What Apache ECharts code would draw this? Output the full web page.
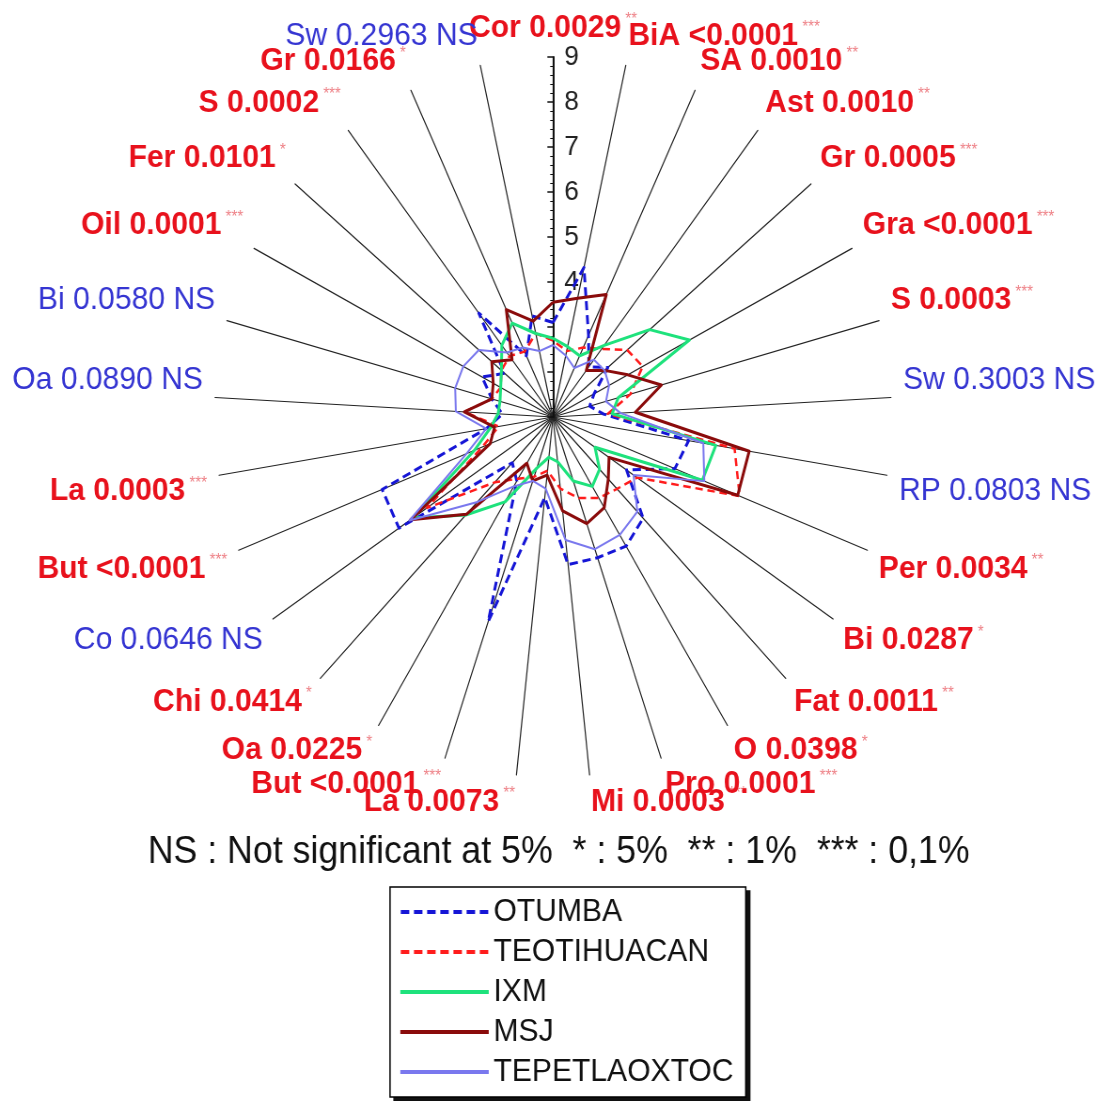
<!DOCTYPE html>
<html>
<head>
<meta charset="utf-8">
<script src="https://cdn.jsdelivr.net/npm/echarts@6/dist/echarts.min.js"></script>
<style>
html,body{margin:0;padding:0;background:#fff;overflow:hidden;width:1097px;height:1101px;}
#wrap{width:1097px;height:1101px;overflow:hidden;position:relative;}
#chart{width:1167px;height:1101px;transform:scaleX(0.94);transform-origin:0 0;position:absolute;left:0;top:0;}
</style>
</head>
<body>
<div id="wrap"><div id="chart"></div></div>
<script>
// ---- data (clockwise from the top) ----
const axisNames = ["Cor 0.0029","BiA <0.0001","SA 0.0010","Ast 0.0010","Gr 0.0005","Gra <0.0001","S 0.0003","Sw 0.3003","RP 0.0803","Per 0.0034","Bi 0.0287","Fat 0.0011","O 0.0398","Pro 0.0001","Mi 0.0003","La 0.0073","But <0.0001","Oa 0.0225","Chi 0.0414","Co 0.0646","But <0.0001","La 0.0003","Oa 0.0890","Bi 0.0580","Oil 0.0001","Fer 0.0101","S 0.0002","Gr 0.0166","Sw 0.2963"];
const significance = ["**","***","**","**","***","***","***","NS","NS","**","*","**","*","***","***","**","***","*","*","NS","***","***","NS","NS","***","*","***","*","NS"];
const siteNames = ["OTUMBA","TEOTIHUACAN","IXM","MSJ","TEPETLAOXTOC"];
const otumba       = [3.1,4.4,3.0,2.4,2.7,2.1,1.9,2.2,4.25,4.1,3.1,4.1,4.35,4.3,4.3,2.8,5.8,2.66,2.4,5.4,5.35,2.6,2.2,2.5,2.9,2.5,3.9,2.5,3.3];
const teotihuacan  = [2.7,2.5,2.7,2.9,3.3,3.4,2.9,2.3,5.35,5.75,3.4,3.2,3.1,2.9,2.6,2.2,2.4,2.6,3.0,4.6,2.8,2.3,3.1,2.5,2.4,2.6,2.7,2.6,2.9];
const ixm          = [2.75,2.6,2.5,3.0,4.0,4.65,2.6,2.4,4.9,4.8,2.2,2.6,2.8,2.5,2.0,1.9,2.2,3.2,4.0,5.0,3.0,2.5,2.3,2.3,2.4,2.6,3.0,3.3,2.9];
const msj          = [3.55,3.7,4.0,2.3,2.6,3.0,3.66,2.95,5.7,5.7,2.6,2.9,3.35,3.5,3.1,2.3,2.5,2.2,3.98,5.07,2.6,2.4,3.1,2.5,2.6,2.9,2.6,3.63,3.18];
const tepetlaoxtoc = [2.6,2.4,2.2,2.6,2.6,2.5,2.3,2.6,4.6,4.85,3.3,3.9,4.06,4.1,3.75,2.6,2.5,2.8,3.6,5.1,3.2,2.6,3.3,3.4,3.4,3.3,2.8,2.7,2.5];
const radialMin = 1, radialMax = 9;
const footnote = "NS : Not significant at 5%  * : 5%  ** : 1%  *** : 0,1%";

// ---- build ----
const FONT = "'Liberation Sans', Arial, sans-serif";
const SX = 0.94;               // horizontal squeeze of the whole figure (matches the reference's aspect)
const CX = 553 / SX, CY = 417, R = 360;
const n = axisNames.length;
// ECharts lays radar indicators counter-clockwise; reverse (keeping the first) to get clockwise order
const order = [0]; for (let i = n - 1; i >= 1; i--) order.push(i);
const indicator = order.map(i => ({ name: axisNames[i], min: radialMin, max: radialMax }));
const reorder = arr => order.map(i => arr[i]);

const styles = [
  { color: '#1515d6', width: 3, type: [9, 5] },
  { color: '#ff1c1c', width: 2.5, type: [8, 5] },
  { color: '#1ee27c', width: 3, type: 'solid' },
  { color: '#8a0b0b', width: 3, type: 'solid' },
  { color: '#7a78ee', width: 2, type: 'solid' }
];
const values = [otumba, teotihuacan, ixm, msj, tepetlaoxtoc];

function dashPath(w, h, dash, gap) {
  let p = '';
  for (let x = 0; x < w; x += dash + gap) {
    const d = Math.min(dash, w - x);
    p += 'M' + x + ',0h' + d + 'v' + h + 'h' + (-d) + 'z';
  }
  return 'path://' + p;
}

const UP = 34, DN = 28;
function axisLabelFormatter(name) {
  const i = axisNames.indexOf(name);
  const s = significance[i];
  const cosv = Math.cos(i * 2 * Math.PI / n);
  const pos = i === 0 ? 'C' : (cosv > 0 ? 'U' : 'D');
  if (s === 'NS') return '{ns' + pos + '|' + name + ' NS}';
  return '{sg' + pos + '|' + name + '}{st' + pos + '| ' + s + '}';
}
const nsBase = { fontSize: 32, color: '#3535d2', fontFamily: FONT };
const sgBase = { fontSize: 32, color: '#e8111c', fontWeight: 'bold', fontFamily: FONT };
const stBase = { fontSize: 16, color: '#ee7f85', fontFamily: FONT, verticalAlign: 'top' };
const rich = {
  nsC: Object.assign({}, nsBase), sgC: Object.assign({}, sgBase), stC: Object.assign({}, stBase),
  nsU: Object.assign({ padding: [0, 0, UP, 0] }, nsBase),
  sgU: Object.assign({ padding: [0, 0, UP, 0] }, sgBase),
  stU: Object.assign({ padding: [0, 0, 0, 0] }, stBase),
  nsD: Object.assign({ padding: [DN, 0, 0, 0] }, nsBase),
  sgD: Object.assign({ padding: [DN, 0, 0, 0] }, sgBase),
  stD: Object.assign({ padding: [DN, 0, 0, 0] }, stBase)
};

const legendData = siteNames.map((s, k) => ({
  name: s,
  icon: styles[k].type === 'solid' ? 'rect' : dashPath(94, 4, 9, 5)
}));
const legendCommon = {
  orient: 'vertical', top: 887,
  itemWidth: 94, itemHeight: 4, itemGap: 8,
  padding: [9, 13, 9, 11],
  borderWidth: 1.5, selectedMode: false,
  data: legendData
};

const chart = echarts.init(document.getElementById('chart'), null, { renderer: 'canvas' });
chart.setOption({
  animation: false,
  backgroundColor: '#fff',
  title: {
    text: footnote, left: 143 / SX, top: 829,
    textStyle: { fontSize: 38, fontWeight: 'normal', color: '#111', fontFamily: FONT }
  },
  legend: [
    Object.assign({}, legendCommon, {
      left: 390 / SX + 4 / SX, top: 891, z: 4,
      backgroundColor: '#111', borderColor: '#111',
      itemStyle: { opacity: 0 },
      textStyle: { fontSize: 32, color: 'rgba(0,0,0,0)', fontFamily: FONT }
    }),
    Object.assign({}, legendCommon, {
      left: 390 / SX, z: 5,
      backgroundColor: '#fff', borderColor: '#000',
      textStyle: { fontSize: 32, color: '#111', fontFamily: FONT }
    })
  ],
  radar: {
    center: [CX, CY], radius: R, startAngle: 90, splitNumber: 8,
    axisNameGap: 13,
    indicator: indicator,
    axisLine: { lineStyle: { color: '#222', width: 1.2 } },
    splitLine: { show: false }, splitArea: { show: false },
    axisTick: { show: false }, axisLabel: { show: false },
    axisName: { formatter: axisLabelFormatter, rich: rich }
  },
  grid: { left: CX, top: CY - R, width: 20, height: R, containLabel: false },
  xAxis: { type: 'value', show: false, min: 0, max: 1 },
  yAxis: {
    type: 'value', min: radialMin, max: radialMax, interval: 1, position: 'left',
    axisLine: { show: true, lineStyle: { color: '#111', width: 2 } },
    axisTick: { show: true, inside: false, length: 6, lineStyle: { color: '#111', width: 1.5 } },
    minorTick: { show: true, splitNumber: 5, length: 3, lineStyle: { color: '#111', width: 1 } },
    axisLabel: { inside: true, margin: 12, fontSize: 28, color: '#222', fontFamily: FONT,
      formatter: v => (v >= 4 ? String(v) : '') },
    splitLine: { show: false }, z: 1
  },
  series: siteNames.map((s, k) => ({
    type: 'radar', symbol: 'none', z: 3 + k,
    data: [{
      name: s, value: reorder(values[k]),
      lineStyle: { color: styles[k].color, width: styles[k].width, type: styles[k].type },
      itemStyle: { color: styles[k].color }
    }]
  }))
});
</script>
</body>
</html>
